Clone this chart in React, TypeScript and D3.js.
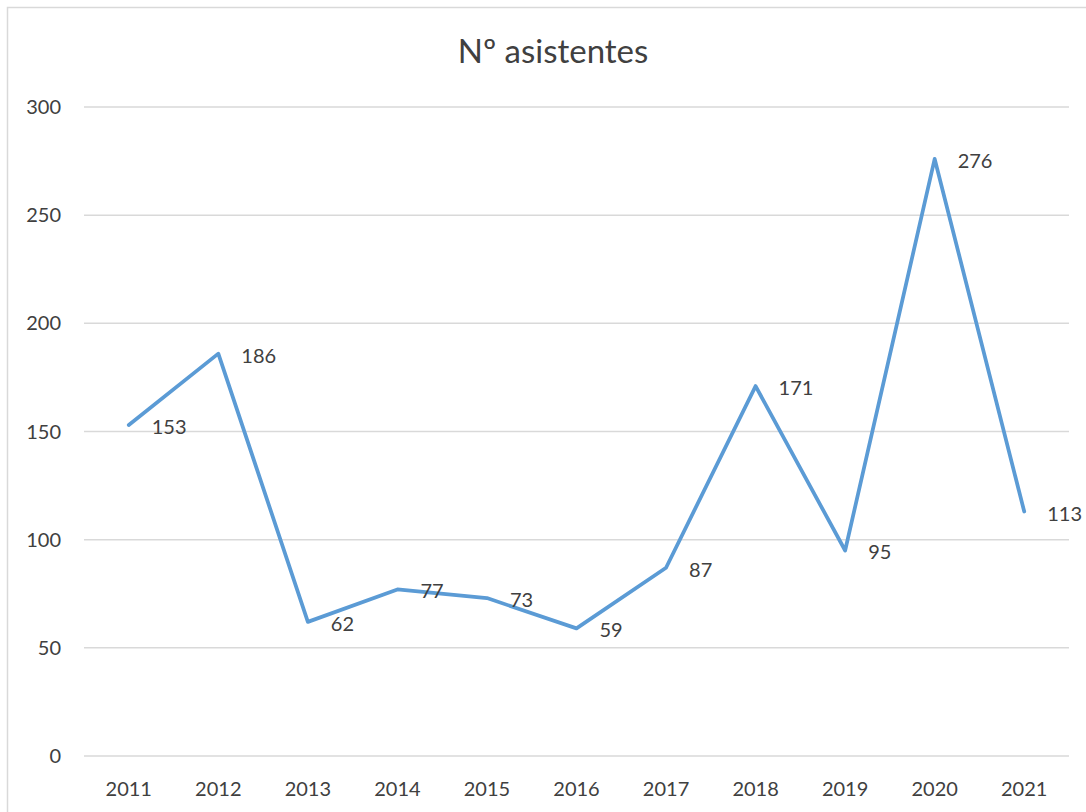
import React from "react";
import * as d3 from "d3";

const years = ["2011", "2012", "2013", "2014", "2015", "2016", "2017", "2018", "2019", "2020", "2021"];
const attendees = [153, 186, 62, 77, 73, 59, 87, 171, 95, 276, 113];
const yTicks = [0, 50, 100, 150, 200, 250, 300];

const W = 1086;
const H = 812;
const FONT = "Lato, 'Open Sans', sans-serif";

const App = () => {
  const x = d3.scaleBand().domain(years).range([84, 1069]);
  const y = d3.scaleLinear().domain([0, 300]).range([756, 107]);
  const cx = (d: string) => (x(d) as number) + x.bandwidth() / 2;

  const line = d3
    .line<number>()
    .x((d, i) => cx(years[i]))
    .y(d => y(d));

  return (
    <svg width={W} height={H} style={{ position: "absolute", left: 0, top: 0 }}>
      <rect x={0} y={0} width={W} height={H} fill="white" />
      <rect x={7.5} y={7.5} width={W + 10} height={H + 10} fill="none" stroke="#d9d9d9" strokeWidth={1.5} />
      <text x={553} y={63} textAnchor="middle" fontFamily={FONT} fontSize={33} fill="#404040">
        Nº asistentes
      </text>
      {yTicks.map(t => (
        <g key={t}>
          <line x1={84} x2={1069} y1={y(t)} y2={y(t)} stroke="#d9d9d9" strokeWidth={1.5} />
          <text x={61} y={y(t)} dy="0.35em" textAnchor="end" fontFamily={FONT} fontSize={20} fill="#404040">
            {t}
          </text>
        </g>
      ))}
      {years.map(d => (
        <text key={d} x={cx(d)} y={796} textAnchor="middle" fontFamily={FONT} fontSize={20} fill="#404040">
          {d}
        </text>
      ))}
      <path d={line(attendees) || ""} fill="none" stroke="#5b9bd5" strokeWidth={3.75} strokeLinejoin="round" strokeLinecap="round" />
      {attendees.map((v, i) => (
        <text key={i} x={cx(years[i]) + 23} y={y(v) + 2} dy="0.35em" fontFamily={FONT} fontSize={20} fill="#404040">
          {v}
        </text>
      ))}
    </svg>
  );
};

export default App;
